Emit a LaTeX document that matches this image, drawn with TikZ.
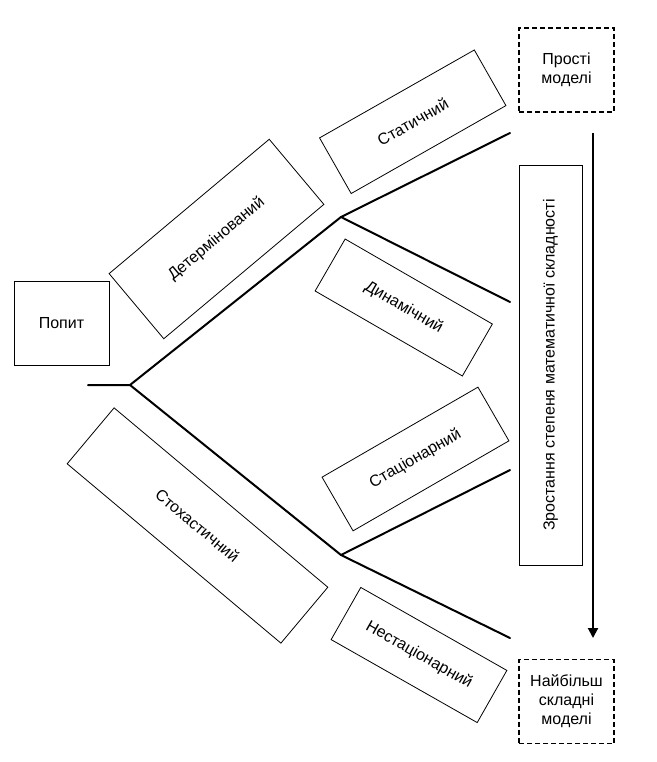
\documentclass[tikz,border=0pt]{standalone}
\usepackage{fontspec}
\setmainfont{Liberation Sans}
\usetikzlibrary{arrows.meta}
\begin{document}
\begin{tikzpicture}[x=1pt,y=-1pt,
  box/.style={draw, line width=0.8pt, inner sep=0pt, align=center, font=\fontsize{16}{19}\selectfont},
  dbox/.style={box, line width=1.5pt, dash pattern=on 5pt off 3pt, minimum width=95pt, minimum height=84pt},
  tree/.style={line width=2pt, line cap=round, line join=round},
  arr/.style={line width=2pt, -{Triangle[length=10pt,width=10pt]}}
]
\useasboundingbox (0,0) rectangle (656,762);

% boxes
\node[box, minimum width=95pt, minimum height=84pt] (popyt) at (61.5,323) {Попит};
\node[dbox] (prosti) at (566.5,70) {Прості\\моделі};
\node[dbox] (skladni) at (566.5,701.5) {Найбільш\\складні\\моделі};
\node[box, rotate=90, minimum width=400pt, minimum height=63pt] (zrost) at (550.5,365) {Зростання степеня математичної складності};

\node[box, rotate=40, minimum width=209pt, minimum height=85pt] (determ) at (216.5,239) {Детермінований};
\node[box, rotate=-40, minimum width=279pt, minimum height=73pt] (stoh) at (197.5,525.5) {Стохастичний};
\node[box, rotate=29.6, minimum width=178pt, minimum height=64pt] (stat) at (412.75,121.75) {Статичний};
\node[box, rotate=-30, minimum width=170pt, minimum height=60pt] (dyn) at (403.75,307.5) {Динамічний};
\node[box, rotate=30, minimum width=180pt, minimum height=62pt] (stac) at (415.5,459) {Стаціонарний};
\node[box, rotate=-29.6, minimum width=168pt, minimum height=60pt] (nestac) at (419,655) {Нестаціонарний};

% tree
\coordinate (s0) at (88,385);
\coordinate (a) at (130,385);
\coordinate (b) at (341,217);
\coordinate (c) at (341,555);
\coordinate (e1) at (510,133);
\coordinate (e2) at (510,302);
\coordinate (e3) at (510,470);
\coordinate (e4) at (510,638);
\draw[tree] (s0) -- (a) -- (b) -- (e1);
\draw[tree] (b) -- (e2);
\draw[tree] (a) -- (c) -- (e3);
\draw[tree] (c) -- (e4);

% arrow
\coordinate (ar1) at (593,133);
\coordinate (ar2) at (593,638);
\draw[arr] (ar1) -- (ar2);
\end{tikzpicture}
\end{document}
